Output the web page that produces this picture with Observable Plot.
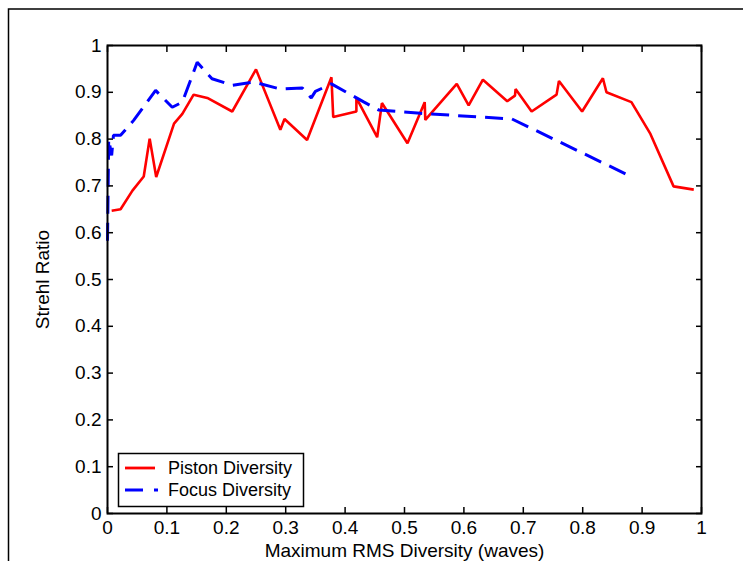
<!DOCTYPE html>
<html><head><meta charset="utf-8">
<script src="https://cdn.jsdelivr.net/npm/d3@7"></script>
<script src="https://cdn.jsdelivr.net/npm/@observablehq/plot@0.6"></script>
<style>body{margin:0;background:#fff;} #chart{position:relative;width:743px;height:561px;overflow:hidden}</style>
</head><body><div id="chart"></div>
<script>
const pistonX = [0.007,0.022,0.042,0.061,0.071,0.082,0.112,0.126,0.145,0.168,0.210,0.250,0.291,0.298,0.336,0.377,0.380,0.419,0.419,0.454,0.462,0.505,0.534,0.535,0.588,0.608,0.632,0.673,0.686,0.687,0.714,0.756,0.760,0.799,0.834,0.840,0.882,0.914,0.953,0.987];
const pistonY = [0.647,0.650,0.690,0.720,0.801,0.719,0.833,0.854,0.895,0.888,0.859,0.949,0.820,0.843,0.798,0.932,0.847,0.859,0.888,0.804,0.877,0.791,0.879,0.841,0.918,0.872,0.927,0.881,0.893,0.907,0.859,0.895,0.924,0.859,0.930,0.900,0.879,0.811,0.699,0.692];
const focusX = [0.000,0.002,0.007,0.010,0.022,0.044,0.081,0.109,0.126,0.151,0.168,0.176,0.210,0.246,0.291,0.328,0.343,0.350,0.377,0.432,0.457,0.527,0.681,0.875];
const focusY = [0.583,0.800,0.765,0.808,0.808,0.840,0.904,0.868,0.879,0.964,0.940,0.929,0.915,0.922,0.907,0.909,0.888,0.902,0.918,0.879,0.862,0.855,0.843,0.724];
const tickValues = [0,0.1,0.2,0.3,0.4,0.5,0.6,0.7,0.8,0.9,1];
const tickLabels = ["0","0.1","0.2","0.3","0.4","0.5","0.6","0.7","0.8","0.9","1"];
const seriesNames = ["Piston Diversity","Focus Diversity"];
const seriesColors = ["#ff0000","#0000ff"];
const xLabel = "Maximum RMS Diversity (waves)";
const yLabel = "Strehl Ratio";

const piston = pistonX.map((x,i)=>({x, y: pistonY[i]}));
const focus = focusX.map((x,i)=>({x, y: focusY[i]}));
const fmt = d => tickLabels[tickValues.indexOf(d)];
const blank = () => "";
const FONT = "'Liberation Sans', Arial, Helvetica, sans-serif";

const plot = Plot.plot({
  width:743, height:561, marginLeft:107, marginRight:42, marginTop:45, marginBottom:48,
  style:{fontFamily:FONT, fontSize:"19px", background:"white", color:"black", overflow:"visible"},
  x:{domain:[0,1], label:null}, y:{domain:[0,1], label:null},
  marks:[
    Plot.line(piston,{x:"x",y:"y",stroke:seriesColors[0],strokeWidth:2.6,strokeLinejoin:"miter",strokeLinecap:"butt"}),
    Plot.line(focus,{x:"x",y:"y",stroke:seriesColors[1],strokeWidth:3,strokeDasharray:"18,9",strokeLinejoin:"miter",strokeLinecap:"butt"}),
    Plot.axisX({ticks:tickValues, anchor:"bottom", tickSize:6, dy:-6, tickFormat:blank, strokeWidth:1.5, label:null}),
    Plot.axisX({ticks:tickValues, anchor:"top", tickSize:6, dy:6, tickFormat:blank, strokeWidth:1.5, label:null}),
    Plot.axisY({ticks:tickValues, anchor:"left", tickSize:6, dx:6, tickFormat:blank, strokeWidth:1.5, label:null}),
    Plot.axisY({ticks:tickValues, anchor:"right", tickSize:6, dx:-6, tickFormat:blank, strokeWidth:1.5, label:null}),
    Plot.axisX({ticks:tickValues, anchor:"bottom", tickSize:0, tickPadding:7, tickFormat:fmt, label:xLabel, labelAnchor:"center", labelOffset:43, labelArrow:"none", fontSize:19}),
    Plot.axisY({ticks:tickValues, anchor:"left", tickSize:0, tickPadding:6, tickFormat:fmt, label:yLabel, labelAnchor:"center", labelOffset:72, labelArrow:"none", fontSize:19}),
    Plot.frame({stroke:"black", strokeWidth:2})
  ]
});
document.getElementById("chart").appendChild(plot);

// outer figure border (top and left edges visible)
const svg = d3.select(plot);
svg.append("path").attr("d","M8.5,561V9H743").attr("fill","none").attr("stroke","black").attr("stroke-width",1.5);

// legend
const lg = svg.append("g").attr("font-family",FONT).attr("font-size","18px").attr("text-anchor","start");
lg.append("rect").attr("x",118.5).attr("y",453.5).attr("width",185).attr("height",53).attr("fill","white").attr("stroke","black").attr("stroke-width",1.5);
seriesNames.forEach((name,i)=>{
  const yy = 468 + i*22;
  lg.append("line").attr("x1",125).attr("x2",i===0?155:158).attr("y1",yy).attr("y2",yy)
    .attr("stroke",seriesColors[i]).attr("stroke-width",2.8)
    .attr("stroke-dasharray", i===1 ? "18,11" : null);
  lg.append("text").attr("x",168).attr("y",yy).attr("dy","0.35em").attr("text-anchor","start").attr("fill","black").text(name);
});
</script></body></html>
